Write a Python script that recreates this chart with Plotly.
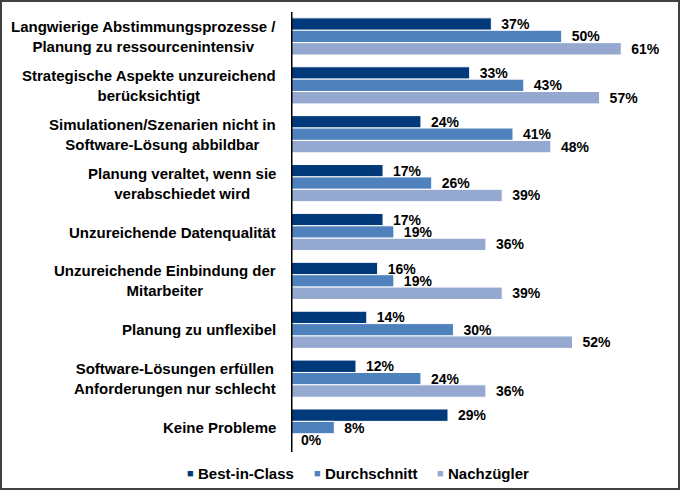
import plotly.graph_objects as go

categories = [
    "Langwierige Abstimmungsprozesse /<br>Planung zu ressourcenintensiv",
    "Strategische Aspekte unzureichend<br>berücksichtigt",
    "Simulationen/Szenarien nicht in<br>Software-Lösung abbildbar",
    "Planung veraltet, wenn sie<br>verabschiedet wird",
    "Unzureichende Datenqualität",
    "Unzureichende Einbindung der<br>Mitarbeiter",
    "Planung zu unflexibel",
    "Software-Lösungen erfüllen<br>Anforderungen nur schlecht",
    "Keine Probleme",
]
series_names = ["Best-in-Class", "Durchschnitt", "Nachzügler"]
best_in_class = [37, 33, 24, 17, 17, 16, 14, 12, 29]
durchschnitt = [50, 43, 41, 26, 19, 19, 30, 24, 8]
nachzuegler = [61, 57, 48, 39, 36, 39, 52, 36, 0]
colors = ["#003a7a", "#4f81bd", "#95a8cf"]

W, H = 680, 490
ml, mr, mt, mb = 291, 10, 12, 38
pw, ph = W - ml - mr, H - mt - mb

font = "Liberation Sans, Arial, sans-serif"
fig = go.Figure()
for name, vals, col in zip(series_names, [best_in_class, durchschnitt, nachzuegler], colors):
    fig.add_trace(go.Bar(
        name=name, y=list(range(len(categories))), x=vals, orientation="h",
        marker=dict(color=col, line=dict(color="white", width=1)),
        text=vals, texttemplate="\u2002%{x}%", textposition="outside",
        constraintext="none",
        textfont=dict(family=font, size=14, color="black", weight="bold"),
        cliponaxis=False, showlegend=False,
    ))

for i, c in enumerate(categories):
    fig.add_annotation(
        xref="paper", yref="y", x=(278 - ml) / pw, y=i, xanchor="right", yanchor="middle",
        text="<b>" + c + "</b>", align="center", showarrow=False,
        font=dict(family=font, size=15, color="black"),
    )

# legend (compact markers as in the reference)
legend_text_px = [196, 323, 446]
legend_y = -21 / ph
for name, col, tx in zip(series_names, colors, legend_text_px):
    fig.add_annotation(
        xref="paper", yref="paper", x=(tx - ml) / pw, y=legend_y, xanchor="right", yanchor="middle",
        text="■", showarrow=False, font=dict(family=font, size=11, color=col),
    )
    fig.add_annotation(
        xref="paper", yref="paper", x=(tx - ml) / pw, y=legend_y, xanchor="left", yanchor="middle",
        text="<b>" + name + "</b>", showarrow=False, font=dict(family=font, size=15, color="black"),
    )

# figure border
fig.add_shape(type="rect", xref="paper", yref="paper",
              x0=(1 - ml) / pw, x1=(W - 1 - ml) / pw,
              y0=-(H - 1 - mt - ph) / ph, y1=1 + (mt - 1) / ph,
              line=dict(color="#404040", width=2), fillcolor="rgba(0,0,0,0)")

fig.update_layout(
    width=W, height=H, margin=dict(l=ml, r=mr, t=mt, b=mb, autoexpand=False),
    barmode="group", bargap=0.24, bargroupgap=0,
    plot_bgcolor="white", paper_bgcolor="white",
    font=dict(family=font, size=15, color="black"),
    xaxis=dict(range=[0, 70], visible=False, showgrid=False),
    yaxis=dict(range=[8.5, -0.5], showticklabels=False, showgrid=False, zeroline=False,
               showline=False, ticks=""),
    showlegend=False,
)
# vertical axis line
fig.add_shape(type="line", xref="x", yref="paper", x0=0, x1=0, y0=0, y1=1,
              line=dict(color="black", width=3))

fig.write_html("out.html", config={"displayModeBar": False},
               post_script="document.body.style.margin='0';")
